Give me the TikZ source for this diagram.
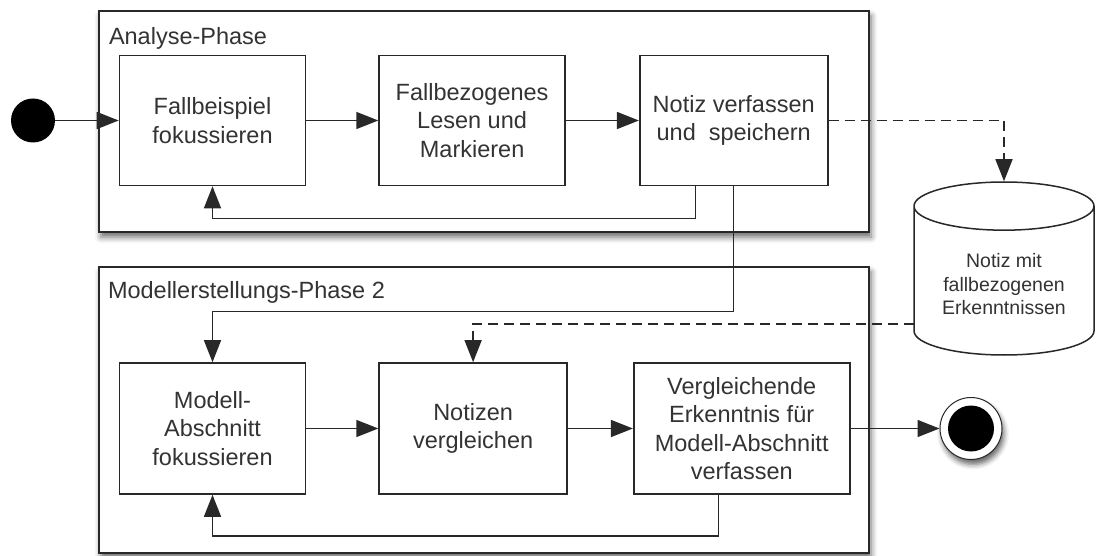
\documentclass[tikz,border=0pt]{standalone}
\usepackage{fontspec}
\setmainfont{Liberation Sans}
\usetikzlibrary{arrows.meta, positioning, shapes.geometric, shadows.blur}
\definecolor{umlInk}{RGB}{40,40,40}
\definecolor{umlText}{RGB}{51,51,51}

\begin{document}
\begin{tikzpicture}[x=1pt,y=-1pt,
  txt/.style={font=\fontsize{23.5}{28.5}\selectfont,text=umlText},
  phase/.style={draw=umlInk,line width=2.4pt,fill=white,inner sep=0pt,
            blur shadow={shadow xshift=2pt,shadow yshift=-5pt,shadow blur radius=6pt,
                         shadow opacity=60}},
  ptitle/.style={txt,anchor=north west,inner sep=0pt},
  act/.style={txt,draw=umlInk,line width=1.6pt,fill=white,align=center,
            minimum width=186pt,minimum height=130pt,inner sep=2pt},
  arr/.style={-{Triangle[length=22pt,width=17pt]},line width=1.5pt,draw=umlInk},
  darr/.style={arr,dash pattern=on 10pt off 6pt}]

\useasboundingbox (0,0) rectangle (1096,556);

% Phasen
\node[phase,minimum width=770pt,minimum height=221pt] (ana) at (484,121.5) {};
\node[phase,minimum width=770pt,minimum height=286pt] (mod) at (484,410) {};
\node[ptitle] (anaT) at ([shift={(11,17)}]ana.north west) {Analyse-Phase};
\node[ptitle] (modT) at ([shift={(10,15)}]mod.north west) {Modellerstellungs-Phase 2};

% Start und Ende
\node[circle,fill=black,minimum size=44pt,inner sep=0pt] (start) at (33,120.5) {};
\node[circle,draw=umlInk,line width=1pt,fill=white,minimum size=62pt,inner sep=0pt,
      blur shadow={shadow xshift=2pt,shadow yshift=-5pt,shadow blur radius=5pt,
                   shadow opacity=60}]
  (end) at (971,428.5) {};
\node[circle,fill=black,minimum size=46pt,inner sep=0pt] (endDot) at (end) {};

% Aktivitaeten
\node[act] (b1) at (212.5,120.5) {Fallbeispiel\\fokussieren};
\node[act,right=72pt of b1] (b2) {Fallbezogenes\\Lesen und\\Markieren};
\node[act,right=73pt of b2,minimum width=188pt] (b3) {Notiz verfassen\\und\ \ speichern};

\node[act,minimum height=131pt] (b4) at (212.5,428.5) {Modell-\\Abschnitt\\fokussieren};
\node[act,right=72pt of b4,minimum width=188pt,minimum height=131pt] (b5) {Notizen\\vergleichen};
\node[act,right=65pt of b5,minimum width=216pt,minimum height=131pt]
  (b6) {Vergleichende\\Erkenntnis f\"ur\\Modell-Abschnitt\\verfassen};

% Datenspeicher
\node[cylinder,shape border rotate=90,draw=umlInk,line width=1.5pt,fill=white,
      aspect=0.37,minimum width=180pt,minimum height=173pt,align=center,
      anchor=shape center,font=\fontsize{19.5}{23.5}\selectfont,text=umlText]
  (db) at (1004,268.5) {Notiz mit\\fallbezogenen\\Erkenntnissen};
\coordinate (dbOut) at ([xshift=-90pt,yshift=-55.5pt]db.shape center);

\draw[arr] (start) -- (b1);
\draw[arr] (b1) -- (b2);
\draw[arr] (b2) -- (b3);
\draw[arr] ([xshift=-38pt]b3.south) -- ++(0,32) -| (b1.south);
\draw[arr] (b3.south) -- ++(0,125) -| (b4.north);
\draw[darr] (b3.east) -| (db.north);
\draw[darr] (dbOut) -| (b5.north);
\draw[arr] (b4) -- (b5);
\draw[arr] (b5) -- (b6);
\draw[arr] ([xshift=-23pt]b6.south) -- ++(0,41) -| (b4.south);
\draw[arr] (b6) -- (end);
\end{tikzpicture}
\end{document}
